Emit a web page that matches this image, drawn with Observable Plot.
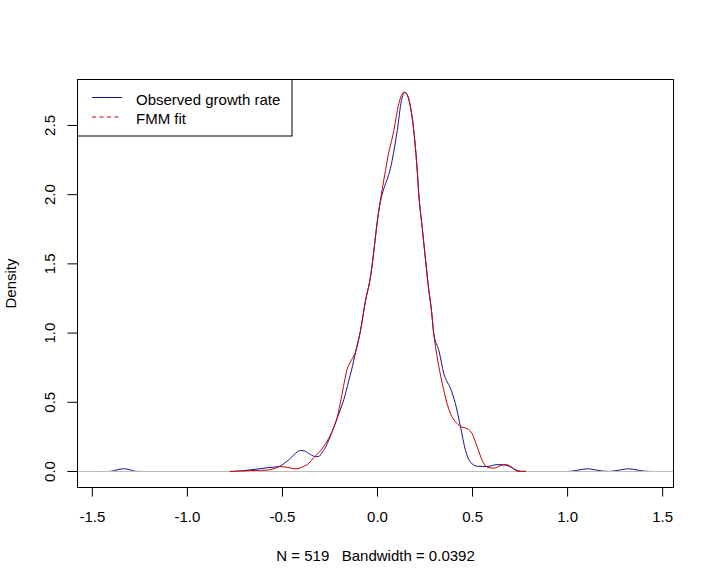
<!DOCTYPE html>
<html><head><meta charset="utf-8">
<script src="https://cdn.jsdelivr.net/npm/d3@7"></script>
<script src="https://cdn.jsdelivr.net/npm/@observablehq/plot@0.6"></script>
<style>
html,body{margin:0;padding:0;background:#fff;}
svg text{white-space:pre;}
</style></head><body><div id="chart"></div>
<script>
// Observed growth rate: kernel density (blue)
const observedX = [-1.455,-1.42,-1.395,-1.37,-1.337,-1.30,-1.28,-1.25,-0.80,-0.76,-0.72,-0.668,-0.62,-0.58,-0.52,-0.49,-0.47,-0.44,-0.405,-0.38,-0.353,-0.326,-0.31,-0.29,-0.265,-0.23,-0.2,-0.177,-0.151,-0.125,-0.116,-0.089,-0.063,-0.04,0.007,0.077,0.104,0.126,0.144,0.16,0.174,0.191,0.209,0.217,0.235,0.253,0.27,0.283,0.296,0.323,0.349,0.384,0.41,0.437,0.463,0.489,0.525,0.577,0.63,0.66,0.683,0.717,0.753,0.79,1.0,1.025,1.065,1.105,1.145,1.185,1.22,1.24,1.28,1.32,1.36,1.40,1.438];
const observedY = [0,0,0.003,0.012,0.02,0.012,0.003,0,0,0.001,0.004,0.012,0.02,0.027,0.036,0.06,0.08,0.12,0.152,0.147,0.123,0.108,0.108,0.14,0.2,0.32,0.43,0.52,0.657,0.80,0.86,1.02,1.235,1.38,1.886,2.247,2.464,2.68,2.74,2.71,2.63,2.46,2.175,2.006,1.765,1.525,1.308,1.175,0.995,0.874,0.706,0.6,0.49,0.32,0.152,0.067,0.038,0.036,0.05,0.048,0.043,0.02,0.002,0,0,0.003,0.012,0.02,0.012,0.003,0.0005,0.003,0.012,0.02,0.012,0.003,0.0004];
// FMM fit (red)
const fmmX = [-0.775,-0.72,-0.668,-0.62,-0.58,-0.545,-0.51,-0.475,-0.43,-0.39,-0.36,-0.336,-0.30,-0.265,-0.235,-0.212,-0.191,-0.159,-0.133,-0.116,-0.089,-0.063,-0.04,0.007,0.042,0.051,0.086,0.112,0.138,0.16,0.174,0.191,0.209,0.217,0.235,0.253,0.27,0.283,0.296,0.314,0.341,0.384,0.41,0.437,0.472,0.498,0.525,0.551,0.577,0.612,0.647,0.674,0.70,0.735,0.779];
const fmmY = [0,0.003,0.007,0.008,0.01,0.02,0.036,0.03,0.02,0.036,0.06,0.1,0.15,0.22,0.3,0.39,0.527,0.742,0.814,0.86,1.02,1.235,1.38,1.886,2.175,2.247,2.464,2.657,2.74,2.71,2.63,2.46,2.175,2.006,1.765,1.525,1.308,1.175,0.995,0.826,0.634,0.417,0.36,0.325,0.309,0.272,0.176,0.08,0.031,0.024,0.043,0.05,0.038,0.002,0];

const xTicks = [-1.5,-1.0,-0.5,0.0,0.5,1.0,1.5];
const yTicks = [0.0,0.5,1.0,1.5,2.0,2.5];
const xDomain = [-1.578, 1.557];
const yDomain = [-0.1156, 2.832];
const xLabel = "N = 519   Bandwidth = 0.0392";
const yLabel = "Density";
const seriesNames = ["Observed growth rate", "FMM fit"];
const seriesColors = ["#14148c", "#cc0000"];
const seriesDash = [null, "4,3.5"];

const observed = observedX.map((x, i) => ({x, y: observedY[i]}));
const fmm = fmmX.map((x, i) => ({x, y: fmmY[i]}));

const chart = Plot.plot({
  width: 714, height: 586,
  marginLeft: 77, marginRight: 41, marginTop: 79, marginBottom: 99,
  style: {fontFamily: "'Liberation Sans', Arial, sans-serif", fontSize: "15px", background: "white", color: "black"},
  x: {domain: xDomain},
  y: {domain: yDomain},
  marks: [
    Plot.line(observed, {x: "x", y: "y", stroke: seriesColors[0], strokeWidth: 1, curve: "monotone-x"}),
    Plot.ruleY([0], {stroke: "#bebebe", strokeWidth: 1}),
    Plot.line(fmm, {x: "x", y: "y", stroke: seriesColors[1], strokeWidth: 1, curve: "monotone-x"}),
    Plot.frame({stroke: "black"}),
    Plot.axisX({ticks: xTicks, tickSize: 9.6, tickPadding: 14.3, tickFormat: d => d.toFixed(1), label: null}),
    Plot.axisY({ticks: yTicks, tickSize: 9.6, tickFormat: () => "", label: null}),
    Plot.text(yTicks, {y: d => d, text: d => d.toFixed(1), frameAnchor: "left", dx: -23, rotate: -90, lineAnchor: "bottom", textAnchor: "middle"}),
    Plot.text([yLabel], {text: d => d, frameAnchor: "left", dx: -61.4, rotate: -90, lineAnchor: "bottom", textAnchor: "middle"}),
    Plot.text([xLabel], {text: d => d, frameAnchor: "bottom", dy: 73, lineAnchor: "bottom", textAnchor: "middle"})
  ]
});

// Legend (top-left, R style)
const svg = d3.select(chart);
const lg = svg.append("g")
  .attr("font-family", "'Liberation Sans', Arial, sans-serif")
  .attr("font-size", 15)
  .attr("text-anchor", "start");
lg.append("rect").attr("x", 77.5).attr("y", 79.5).attr("width", 214.5).attr("height", 56.5)
  .attr("fill", "white").attr("stroke", "black");
const rowY = [97, 116.5];
seriesNames.forEach((name, i) => {
  lg.append("line").attr("x1", 92).attr("x2", 122).attr("y1", rowY[i] + 0.5).attr("y2", rowY[i] + 0.5)
    .attr("stroke", seriesColors[i]).attr("stroke-width", 1)
    .attr("stroke-dasharray", seriesDash[i]);
  lg.append("text").attr("x", 136).attr("y", rowY[i] + 7.5).attr("fill", "black")
    .attr("text-anchor", "start").text(name);
});

document.getElementById("chart").appendChild(chart);
</script></body></html>
